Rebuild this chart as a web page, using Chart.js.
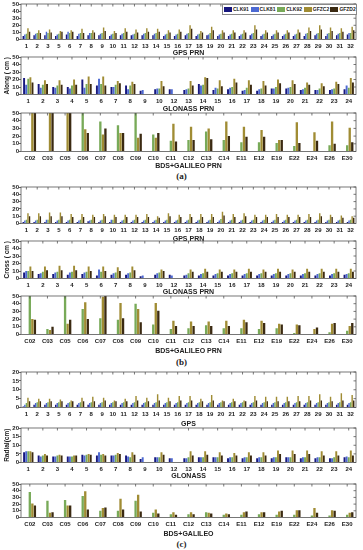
<!DOCTYPE html>
<html>
<head>
<meta charset="utf-8">
<script src="https://cdn.jsdelivr.net/npm/chart.js@4.4.0/dist/chart.umd.min.js"></script>
<style>
  body { margin: 0; background: #fff; }
  #wrap { position: relative; width: 363px; height: 550px; overflow: hidden; }
  #wrap canvas { position: absolute; left: 0; }
  .tag { position: absolute; left: 0; width: 363px; text-align: center; font: bold 9px 'Liberation Serif', serif; color: #222; }
  #legend { position: absolute; left: 222px; top: 4px; width: 133px; height: 9px; border: 1px solid #888; background: #fff;
            font: bold 5px 'Liberation Sans', Arial, sans-serif; color: #222; z-index: 2; white-space: nowrap; }
  #legend span { display: inline-block; width: 26.6px; line-height: 9px; }
  #legend i { display: inline-block; width: 8px; height: 5px; margin: 0 1px 0 1px; vertical-align: -0.5px; }
</style>
</head>
<body>
<div id="wrap">
  <div id="legend"></div>
  <div class="tag" style="top:171px">(a)</div>
  <div class="tag" style="top:357px">(b)</div>
  <div class="tag" style="top:539px">(c)</div>
</div>
<script>
// categories
const gpsPrn = ['1','2','3','5','6','7','8','9','10','11','12','13','14','15','16','17','18','19','20','21','22','23','24','25','26','27','28','29','30','31','32']
const gloPrn = ['1','2','3','4','5','6','7','8','9','10','12','13','14','15','16','17','18','19','20','21','22','23','24']
const bgPrn = ['C02','C03','C05','C06','C07','C08','C09','C10','C11','C12','C13','C14','E11','E12','E19','E22','E24','E26','E30']

const seriesNames = ['CLK91', 'CLK81', 'CLK92', 'GFZC2', 'GFZD2']

// (a) along-track, cm
const gpsAlong91 = [5,6,6,5,7,5,6,6,5,6,6,6,6,5,5,6,5,6,5,5,5,6,5,5,5,5,5,6,5,6,7]
const gpsAlong81 = [7,8,11,7,11,8,9,8,7,8,7,8,8,7,7,8,7,7,7,7,7,8,7,7,7,7,8,8,8,8,9]
const gpsAlong92 = [8,9,9,8,9,9,9,9,8,9,8,9,9,8,8,9,8,9,8,8,8,9,8,8,8,8,9,9,9,9,9]
const gpsAlongC2 = [16,13,14,12,13,15,13,17,12,16,14,16,15,13,14,20,12,18,13,13,13,20,13,13,13,14,17,20,17,16,18]
const gpsAlongD2 = [11,9,10,11,11,9,10,12,9,11,10,11,11,10,11,15,10,13,10,10,10,14,10,10,10,10,12,14,12,11,13]

const gloAlong91 = [22,14,10,10,20,12,10,12,5,7,7,6,14,6,7,5,5,8,8,6,6,6,7]
const gloAlong81 = [13,9,9,8,9,21,10,7,6,8,7,7,12,9,9,6,7,8,9,7,6,7,12]
const gloAlong92 = [21,13,12,12,14,14,13,12,null,8,null,8,13,8,10,9,8,10,10,9,8,8,9]
const gloAlongC2 = [23,19,19,20,24,24,18,17,null,18,null,18,23,19,21,19,18,20,19,16,15,17,22]
const gloAlongD2 = [16,14,13,13,14,12,15,14,null,11,null,12,22,11,16,13,12,15,14,13,11,14,16]

const bgAlong92 = [null,null,null,60,39,34,60,22,14,15,26,15,12,12,11,7,null,8,8]
const bgAlongC2 = [60,60,60,29,22,24,18,18,36,32,30,39,32,28,15,38,25,39,31]
const bgAlongD2 = [60,60,60,24,30,24,23,24,13,15,16,20,19,19,15,11,14,10,12]

// (b) cross-track, cm
const gpsCross91 = [2,2,2,2,2,2,3,2,2,2,2,2,2,2,2,2,2,2,2,2,2,2,2,2,2,2,2,2,2,2,2]
const gpsCross81 = [4,4,5,4,4,4,4,4,5,4,4,4,4,4,4,4,4,4,4,4,4,4,4,4,4,4,4,4,4,4,4]
const gpsCross92 = [5,5,5,5,5,5,5,5,5,5,5,5,5,5,5,5,5,5,6,5,5,5,5,5,5,5,5,5,5,5,5]
const gpsCrossC2 = [14,14,15,15,13,13,12,13,12,12,12,13,10,14,12,13,13,13,16,13,14,12,12,13,12,12,13,14,12,11,10]
const gpsCrossD2 = [10,10,10,10,9,9,9,10,9,9,9,9,8,10,9,9,9,9,11,9,10,9,9,9,9,9,9,10,9,8,8]

const gloCross91 = [8,6,6,5,6,4,5,5,3,5,5,4,4,4,4,4,4,4,4,4,4,4,5]
const gloCross81 = [10,7,8,8,8,12,7,7,4,7,4,5,6,6,6,6,6,6,6,6,6,6,6]
const gloCross92 = [10,9,9,9,9,9,8,8,null,8,null,7,7,7,7,7,7,7,7,7,7,7,7]
const gloCrossC2 = [16,16,17,17,16,16,15,16,null,12,null,12,13,12,12,13,12,13,12,13,13,13,13]
const gloCrossD2 = [10,11,11,11,10,10,10,11,null,10,null,9,9,9,9,9,9,9,9,9,9,9,9]

const bgCross92 = [60,7,60,33,21,19,40,13,7,8,12,8,8,7,8,2,null,3,5]
const bgCrossC2 = [20,6,14,42,49,41,33,41,18,17,17,18,19,18,14,13,7,14,11]
const bgCrossD2 = [19,10,19,20,52,21,16,31,11,11,11,11,16,15,13,12,9,15,15]

// (c) radial, cm
const gpsRad91 = [0.6,1.5,1.5,1.5,1.5,1.5,1.5,1.5,1.5,1.5,1.5,1.5,1.5,1.5,1.5,1.5,1.5,1.5,1.5,1.5,1.5,1.5,1.5,1.5,1.5,1.5,1.5,1.5,1.5,1.5,1.5]
const gpsRad81 = [1.5,2.5,2.5,2.5,2.5,2.5,2.5,2.5,2.5,2.5,2.5,2.5,2.5,2.5,2.5,2.5,2.5,2.5,2.5,2.5,2.5,2.5,2.5,2.5,2.5,2.5,2.5,2.5,2.5,2.5,2.5]
const gpsRad92 = [2.5,3,3,3,3,3,3,3,3,3,3,3,3,3,3,3,3,3,3,3,3,3,3,3,3,3,3,3,3,3,3]
const gpsRadC2 = [5.5,5,5,4.5,4,5.5,6,5.5,4,5,6.5,5.5,7.5,5.5,6.5,6.5,5,7,4,5,4,6.5,6,6,6,6.5,6.5,7.5,6,8,7]
const gpsRadD2 = [3.5,3.5,3.5,3.5,3.5,3.5,3.5,4,3.5,3.5,4,3.5,4,3.5,4,4,3.5,4,3.5,3.5,3.5,4,3.5,3.5,3.5,3.5,4,4,3.5,4,4]

const gloRad91 = [6,4,3.5,3.5,4.5,4,4,4,2,3,2.5,2.5,3,3,2.5,2.5,2.5,2.5,3,2.5,2.5,2.5,3]
const gloRad81 = [6.5,3.5,3.5,3.5,4,6,4,3.5,3,3,2.5,2.5,3,3,3,3,3,3,3,3,3,2.5,3.5]
const gloRad92 = [6.5,4,4,3.5,4.5,4.5,4.5,3,null,3,null,3,3,3,3,3,3,3,3,3,3,3,3]
const gloRadC2 = [6.5,5,4.5,4,5,5,5.5,6,null,6,null,6.5,6.5,6,5.5,6,6,7,7,7,6.5,6.5,7]
const gloRadD2 = [6,4,4,4,4.5,4,5,4.5,null,4.5,null,4,4.5,4,4,4,4,5,5,5,4,4,4]

const bgRad92 = [38,25,26,32,10,10,25,7,5,5,8,4,4,5,4,4,3,3,4]
const bgRadC2 = [21,7,18,39,14,28,34,12,8,8,7,6,8,8,9,11,14,11,7]
const bgRadD2 = [18,8,18,12,15,12,9,6,4,5,6,5,9,8,10,11,7,10,8]

// styles
const seriesColors = ['#17177e', '#4c69d2', '#78aa58', '#a08c34', '#3b2a12']
const tickFont = { family: "'Liberation Sans', Arial, sans-serif", size: 6, weight: 'bold' }
const titleFont = { family: "'Liberation Sans', Arial, sans-serif", size: 7, weight: 'bold' }
const yTitleFont = { family: "'Liberation Sans', Arial, sans-serif", size: 6.5, weight: 'bold' }
const ink = '#222'

const wrap = document.getElementById('wrap')

// legend
document.getElementById('legend').innerHTML = seriesNames
  .map((n, i) => `<span><i style="background:${seriesColors[i]}"></i>${n}</span>`).join('')

// box with inner ticks on top and right
const frame = {
  id: 'frame',
  afterDraw(chart) {
    const { ctx, chartArea: a, scales } = chart
    ctx.save()
    ctx.strokeStyle = '#555'
    ctx.lineWidth = 0.8
    ctx.strokeRect(a.left, a.top, a.right - a.left, a.bottom - a.top)
    ctx.beginPath()
    scales.x.ticks.forEach((t, i) => {
      const x = scales.x.getPixelForTick(i)
      ctx.moveTo(x, a.top); ctx.lineTo(x, a.top + 2.5)
    })
    scales.y.ticks.forEach((t, i) => {
      const y = scales.y.getPixelForTick(i)
      ctx.moveTo(a.right, y); ctx.lineTo(a.right - 2.5, y)
    })
    ctx.stroke()
    ctx.restore()
  }
}

function makePanel(p) {
  const padTop = 5
  const xH = p.titleY - p.bottom + 4.5
  const canvas = document.createElement('canvas')
  canvas.width = 363
  canvas.height = Math.round(p.bottom - p.top + padTop + xH)
  canvas.style.top = (p.top - padTop) + 'px'
  wrap.appendChild(canvas)

  new Chart(canvas, {
    type: 'bar',
    data: {
      labels: p.labels,
      datasets: p.series.map((d, i) => ({
        label: seriesNames[i],
        data: d,
        backgroundColor: seriesColors[i],
        borderWidth: 0,
        barPercentage: 0.92,
        categoryPercentage: 0.72
      }))
    },
    options: {
      responsive: false,
      animation: false,
      layout: { padding: { top: padTop, right: 7, left: 0, bottom: 0 } },
      plugins: { legend: { display: false }, tooltip: { enabled: false } },
      scales: {
        x: {
          grid: { display: false, drawTicks: false },
          border: { display: false },
          ticks: { font: tickFont, color: ink, padding: 3, maxRotation: 0, autoSkip: false },
          title: { display: true, text: p.xTitle, font: titleFont, color: ink, padding: 0 },
          afterFit: s => { s.height = xH }
        },
        y: {
          min: 0,
          max: p.max,
          ticks: { stepSize: p.step, font: tickFont, color: ink, padding: 0, autoSkip: false },
          grid: { drawOnChartArea: false, tickLength: 2, color: '#666' },
          border: { display: false },
          title: { display: !!p.yTitle, text: p.yTitle, font: yTitleFont, color: ink, padding: { top: 3, bottom: 0 } },
          afterFit: s => { s.width = 21 }
        }
      }
    },
    plugins: [frame]
  })
}

const none = []
const panels = [
  { top: 4, bottom: 39, titleY: 52, max: 50, step: 10, labels: gpsPrn, xTitle: 'GPS PRN',
    series: [gpsAlong91, gpsAlong81, gpsAlong92, gpsAlongC2, gpsAlongD2] },
  { top: 57, bottom: 94, titleY: 108, max: 50, step: 10, labels: gloPrn, xTitle: 'GLONASS PRN', yTitle: 'Along ( cm )',
    series: [gloAlong91, gloAlong81, gloAlong92, gloAlongC2, gloAlongD2] },
  { top: 113, bottom: 151, titleY: 165, max: 50, step: 10, labels: bgPrn, xTitle: 'BDS+GALILEO PRN',
    series: [none, none, bgAlong92, bgAlongC2, bgAlongD2] },
  { top: 187, bottom: 223, titleY: 238, max: 50, step: 10, labels: gpsPrn, xTitle: 'GPS PRN',
    series: [gpsCross91, gpsCross81, gpsCross92, gpsCrossC2, gpsCrossD2] },
  { top: 241, bottom: 278, titleY: 291, max: 50, step: 10, labels: gloPrn, xTitle: 'GLONASS PRN', yTitle: 'Cross ( cm )',
    series: [gloCross91, gloCross81, gloCross92, gloCrossC2, gloCrossD2] },
  { top: 296, bottom: 334, titleY: 350, max: 50, step: 10, labels: bgPrn, xTitle: 'BDS+GALILEO PRN',
    series: [none, none, bgCross92, bgCrossC2, bgCrossD2] },
  { top: 372, bottom: 407, titleY: 423, max: 20, step: 5, labels: gpsPrn, xTitle: 'GPS',
    series: [gpsRad91, gpsRad81, gpsRad92, gpsRadC2, gpsRadD2] },
  { top: 428, bottom: 462, titleY: 475, max: 20, step: 5, labels: gloPrn, xTitle: 'GLONASS', yTitle: 'Radial(cm)',
    series: [gloRad91, gloRad81, gloRad92, gloRadC2, gloRadD2] },
  { top: 484, bottom: 517, titleY: 533, max: 50, step: 10, labels: bgPrn, xTitle: 'BDS+GALILEO',
    series: [none, none, bgRad92, bgRadC2, bgRadD2] }
]

panels.forEach(makePanel)
</script>
</body>
</html>
